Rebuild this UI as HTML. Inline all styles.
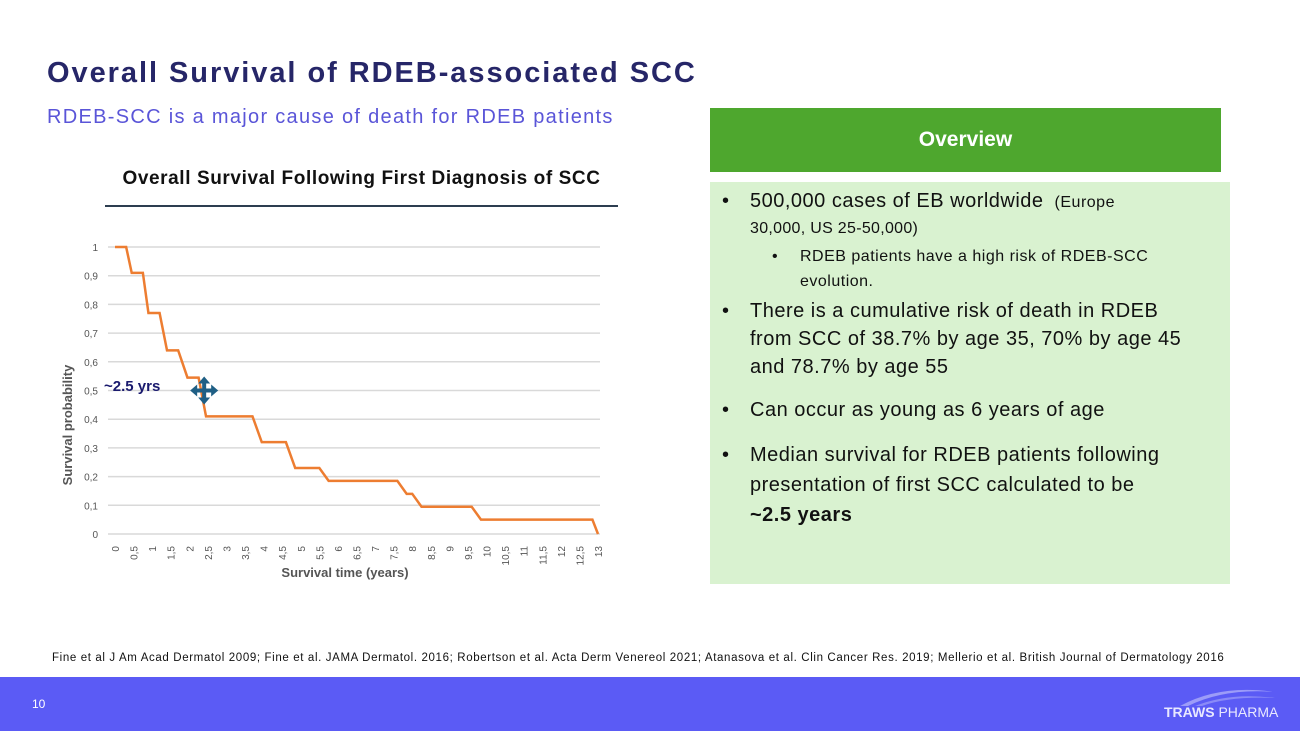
<!DOCTYPE html>
<html><head><meta charset="utf-8"><style>
body{margin:0;width:1300px;height:731px;position:relative;background:#fff;font-family:"Liberation Sans",sans-serif;overflow:hidden}
.a{position:absolute}
.b{position:absolute;left:722px;font-size:20px;letter-spacing:0.5px;color:#111;line-height:28px;white-space:nowrap}
.b span.d{position:absolute;left:0}
</style></head><body>
<div class="a" style="left:47px;top:57px;font-size:29px;letter-spacing:1.95px;font-weight:bold;color:#262668">Overall Survival of RDEB-associated SCC</div>
<div class="a" style="left:47px;top:106px;font-size:20px;letter-spacing:1.3px;color:#5a55d8">RDEB-SCC is a major cause of death for RDEB patients</div>
<div class="a" style="left:105px;top:168px;width:513px;text-align:center;font-size:19px;letter-spacing:0.6px;font-weight:bold;color:#111">Overall Survival Following First Diagnosis of SCC</div>
<div class="a" style="left:105px;top:205px;width:513px;height:2px;background:#2d3e50"></div>
<svg class="a" id="chart" style="left:0;top:0" width="700" height="620"></svg>
<div class="a" style="left:710px;top:108px;width:511px;height:64px;background:#4ea72e;color:#fff;font-size:21px;font-weight:bold;display:flex;align-items:center;justify-content:center">Overview</div>
<div class="a" style="left:710px;top:182px;width:520px;height:402px;background:#d9f2d0"></div>
<div class="b" style="top:189px;padding-left:28px;line-height:24px"><span class="d">•</span>500,000 cases of EB worldwide <span style="font-size:16px;letter-spacing:0.5px">&nbsp;(Europe</span><br><span style="font-size:16px;letter-spacing:0.3px">30,000, US 25-50,000)</span></div>
<div class="b" style="top:244px;left:772px;padding-left:28px;font-size:16px;letter-spacing:0.5px;line-height:25px"><span class="d">•</span>RDEB patients have a high risk of RDEB-SCC<br>evolution.</div>
<div class="b" style="top:297px;padding-left:28px"><span class="d">•</span>There is a cumulative risk of death in RDEB<br>from SCC of 38.7% by age 35, 70% by age 45<br>and 78.7% by age 55</div>
<div class="b" style="top:396px;padding-left:28px"><span class="d">•</span>Can occur as young as 6 years of age</div>
<div class="b" style="top:440px;padding-left:28px;line-height:30px"><span class="d">•</span>Median survival for RDEB patients following<br>presentation of first SCC calculated to be<br><b>~2.5 years</b></div>
<div class="a" style="left:52px;top:652px;font-size:11.5px;letter-spacing:0.63px;color:#111;white-space:nowrap">Fine et al J Am Acad Dermatol 2009; Fine et al. JAMA Dermatol. 2016; Robertson et al. Acta Derm Venereol 2021; Atanasova et al. Clin Cancer Res. 2019; Mellerio et al. British Journal of Dermatology 2016</div>
<div class="a" style="left:0;top:677px;width:1300px;height:54px;background:#5b5bf5"></div>
<div class="a" style="left:32px;top:697px;font-size:12px;color:#fff">10</div>
<svg class="a" style="left:1170px;top:684px" width="110" height="24"><path d="M10 22 Q50 0 105 8 Q55 4 18 22Z" fill="#9c9cf8"/><path d="M25 22 Q60 8 105 14 Q60 12 32 22Z" fill="#8a8af7"/></svg>
<div class="a" style="left:1164px;top:704px;font-size:14px;color:#e8e8ff"><b>TRAWS</b> PHARMA</div>
<script>
const yTicks=[0,0.1,0.2,0.3,0.4,0.5,0.6,0.7,0.8,0.9,1];
const yLabels=["0","0,1","0,2","0,3","0,4","0,5","0,6","0,7","0,8","0,9","1"];
const xTicks=[0,0.5,1,1.5,2,2.5,3,3.5,4,4.5,5,5.5,6,6.5,7,7.5,8,8.5,9,9.5,10,10.5,11,11.5,12,12.5,13];
const times=[0,0.3,0.45,0.75,0.9,1.2,1.4,1.7,1.95,2.25,2.45,3.7,3.95,4.6,4.85,5.5,5.75,7.6,7.85,8.0,8.25,9.6,9.85,12.85,13];
const surv=[1,1,0.91,0.91,0.77,0.77,0.64,0.64,0.545,0.545,0.41,0.41,0.32,0.32,0.23,0.23,0.185,0.185,0.14,0.14,0.095,0.095,0.05,0.05,0];
const NS="http://www.w3.org/2000/svg";
const svg=document.getElementById('chart');
const X=t=>115+t*(598-115)/13, Y=v=>534-v*(534-247);
function mk(tag,at){const e=document.createElementNS(NS,tag);for(const k in at)e.setAttribute(k,at[k]);svg.appendChild(e);return e;}
yTicks.forEach((v,i)=>{
 const g=mk('line',{x1:108,x2:600,y1:Y(v),y2:Y(v),stroke:'#d9d9d9','stroke-width':1.5});
 
 
 const t=mk('text',{x:98,y:Y(v)+4,'text-anchor':'end','font-size':10,fill:'#555','font-family':'Liberation Sans'});
 t.textContent=yLabels[i];
 
 
});
xTicks.forEach(v=>{
 const t=mk('text',{transform:`translate(${X(v)+4},546) rotate(-90)`,'text-anchor':'end','font-size':10,fill:'#555','font-family':'Liberation Sans'});
 t.textContent=String(v).replace('.',',');
 
 
});
const p=mk('polyline',{points:times.map((t,i)=>X(t)+','+Y(surv[i])).join(' '),fill:'none',stroke:'#ed7d31','stroke-width':2.5});


const xt=mk('text',{x:345,y:577,'text-anchor':'middle','font-size':13,'font-weight':'bold',fill:'#555','font-family':'Liberation Sans'});
xt.textContent='Survival time (years)';


const yt=mk('text',{transform:'translate(72,425) rotate(-90)','text-anchor':'middle','font-size':13,'font-weight':'bold',fill:'#555','font-family':'Liberation Sans'});
yt.textContent='Survival probability';


const an=mk('text',{x:104,y:391,'font-size':15,'font-weight':'bold',fill:'#1a1a6e','font-family':'Liberation Sans'});
an.textContent='~2.5 yrs';


const cx=X(2.4),cy=Y(0.5);
const m=mk('path',{d:`M${cx} ${cy-14}l6 7h-4v5h5v-4l7 6-7 6v-4h-5v5h4l-6 7-6-7h4v-5h-5v4l-7-6 7-6v4h5v-5h-4z`,fill:'#1f5f85'});


</script>
</body></html>
